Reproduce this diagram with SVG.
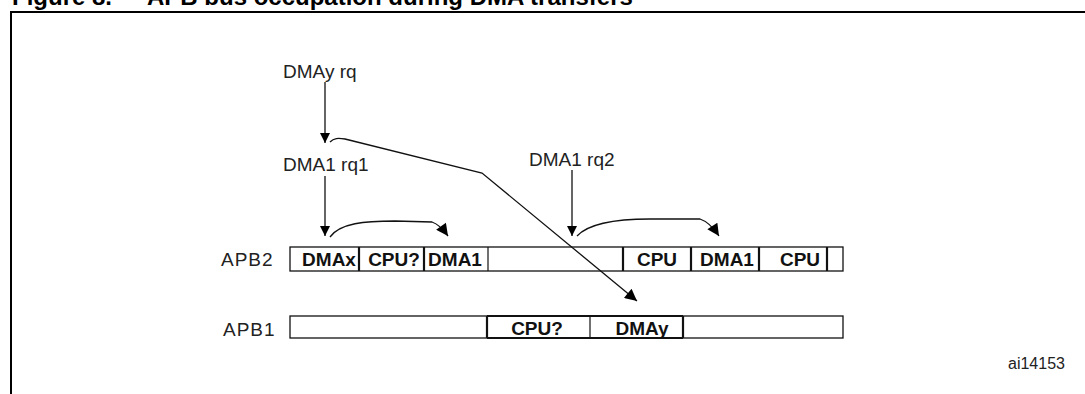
<svg xmlns="http://www.w3.org/2000/svg" width="1085" height="394" viewBox="0 0 1085 394">
<style>
.t{font-family:"Liberation Sans",Arial,sans-serif;font-size:19px;fill:#222}
.b{font-family:"Liberation Sans",Arial,sans-serif;font-size:19px;font-weight:bold;fill:#111}
.ttl{font-family:"Liberation Sans",Arial,sans-serif;font-size:24px;font-weight:bold;fill:#000}
.bar{fill:#fff;stroke:#111;stroke-width:1.3}
.thin{stroke:#111;stroke-width:1.2}
.thick{stroke:#111;stroke-width:2.2}
.c{fill:none;stroke:#111;stroke-width:1.3}
</style>
<defs>
<marker id="ah" viewBox="0 0 10 10" refX="10" refY="5" markerWidth="13" markerHeight="10" markerUnits="userSpaceOnUse" orient="auto">
<path d="M0,0 L10,5 L0,10 z" fill="#000"/>
</marker>
<marker id="ah2" viewBox="0 0 10 10" refX="10" refY="5" markerWidth="16" markerHeight="12" markerUnits="userSpaceOnUse" orient="auto">
<path d="M0,0 L10,5 L0,10 z" fill="#000"/>
</marker>
</defs>
<g id="title">
<text class="ttl" x="12" y="5">Figure 8.</text>
<text class="ttl" x="147" y="5">APB bus occupation during DMA transfers</text>
</g>
<g id="frame">
<path d="M11,394 V12 H1085" fill="none" stroke="#000" stroke-width="2"/>
</g>
<g id="labels">
<text class="t" x="283" y="78">DMAy rq</text>
<text class="t" x="283" y="171">DMA1 rq1</text>
<text class="t" x="529" y="166">DMA1 rq2</text>
<text class="t" x="221" y="266" letter-spacing="1">APB2</text>
<text class="t" x="223" y="336" letter-spacing="1">APB1</text>
<text class="t" x="1008" y="369" style="font-size:16px">ai14153</text>
</g>
<g id="apb2">
<rect class="bar" x="290" y="247" width="553" height="24"/>
<line class="thick" x1="359" y1="247" x2="359" y2="271"/>
<line class="thick" x1="424" y1="247" x2="424" y2="271"/>
<line class="thin" x1="488" y1="247" x2="488" y2="271"/>
<line class="thick" x1="623" y1="247" x2="623" y2="271"/>
<line class="thick" x1="691" y1="247" x2="691" y2="271"/>
<line class="thick" x1="759" y1="247" x2="759" y2="271"/>
<line class="thick" x1="827" y1="247" x2="827" y2="271"/>
<text class="b" x="329" y="266" text-anchor="middle">DMAx</text>
<text class="b" x="394" y="266" text-anchor="middle">CPU?</text>
<text class="b" x="455" y="266" text-anchor="middle">DMA1</text>
<text class="b" x="657" y="266" text-anchor="middle">CPU</text>
<text class="b" x="727" y="266" text-anchor="middle">DMA1</text>
<text class="b" x="800" y="266" text-anchor="middle">CPU</text>
</g>
<g id="apb1">
<rect class="bar" x="290" y="316" width="553" height="22"/>
<line class="thick" x1="487" y1="316" x2="487" y2="338"/>
<line class="thin" x1="590" y1="316" x2="590" y2="338"/>
<line class="thick" x1="683" y1="316" x2="683" y2="338"/>
<line class="thick" x1="487" y1="316" x2="683" y2="316"/>
<line class="thick" x1="487" y1="338" x2="683" y2="338"/>
<text class="b" x="537" y="335" text-anchor="middle">CPU?</text>
<text class="b" x="642" y="335" text-anchor="middle">DMAy</text>
</g>
<g id="connectors">
<line class="c" x1="325" y1="82" x2="325" y2="143" marker-end="url(#ah)"/>
<line class="c" x1="325" y1="176" x2="325" y2="236" marker-end="url(#ah)"/>
<line class="c" x1="572" y1="170" x2="572" y2="236" marker-end="url(#ah)"/>
<path class="c" d="M330,142 C334,138 338,138 345,139 L482,173 L637,301" marker-end="url(#ah2)"/>
<path class="c" d="M330,237 C340,223 365,221 395,221 L432,222 C438,224 443,229 448,236" marker-end="url(#ah2)"/>
<path class="c" d="M577,236 C590,222 620,219 650,219 L700,219 C706,221 713,227 719,236" marker-end="url(#ah2)"/>
</g>
</svg>
